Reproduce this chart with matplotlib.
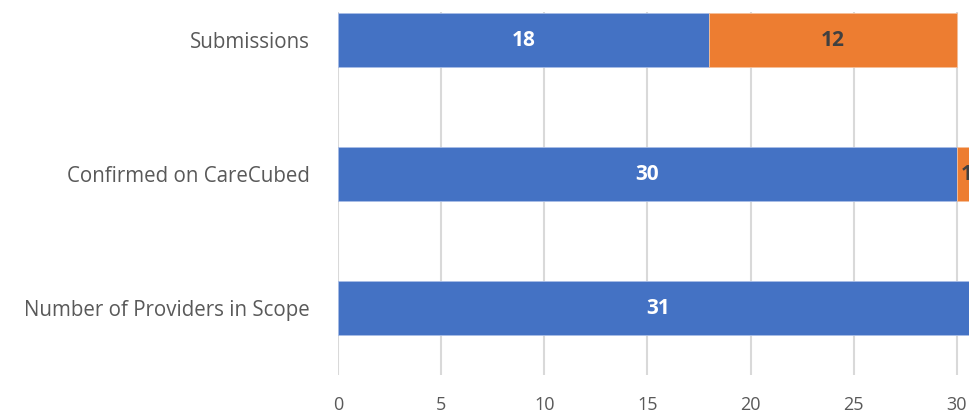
import matplotlib
matplotlib.use("Agg")
import matplotlib.pyplot as plt
import numpy as np

categories = ["Number of Providers in Scope", "Confirmed on CareCubed", "Submissions"]
blue_vals = [31, 30, 18]
orange_vals = [0, 1, 12]
xticks = [0, 5, 10, 15, 20, 25, 30, 35]

plt.rcParams['font.family'] = ['Open Sans', 'DejaVu Sans']

fig = plt.figure(figsize=(9.7, 4.12), dpi=100)
# plot area runs past the right edge, as in the cropped original
ax = fig.add_axes([338/970, 37/412, 35*20.63/970, 363/412])

y = np.arange(len(categories))
ax.barh(y, blue_vals, height=0.4, color="#4472C4", edgecolor="#a9bde6", linewidth=0.6, zorder=3)
ax.barh(y, orange_vals, left=blue_vals, height=0.4, color="#ED7D31", edgecolor="#f5c09a", linewidth=0.6, zorder=3)

for i in range(len(categories)):
  if blue_vals[i] > 0:
    ax.text(blue_vals[i]/2, y[i], str(blue_vals[i]), ha="center", va="center",
            color="white", fontsize=15, fontweight="bold", zorder=4)
  if orange_vals[i] > 0:
    ax.text(blue_vals[i] + orange_vals[i]/2, y[i], str(orange_vals[i]), ha="center", va="center",
            color="#404040", fontsize=15, fontweight="bold", zorder=4)

ax.set_xlim(0, 35)
ax.set_ylim(-0.5, 2.21)
ax.set_xticks(xticks)
ax.set_yticks(y)
ax.set_yticklabels(categories)
ax.grid(axis="x", color="#d9d9d9", linewidth=1.5, zorder=0)
ax.tick_params(axis="both", length=0, labelcolor="#595959")
ax.tick_params(axis="y", pad=20, labelsize=14.8)
ax.tick_params(axis="x", pad=15, labelsize=13)
for s in ax.spines.values():
  s.set_visible(False)

fig.savefig("out.png", dpi=100)
